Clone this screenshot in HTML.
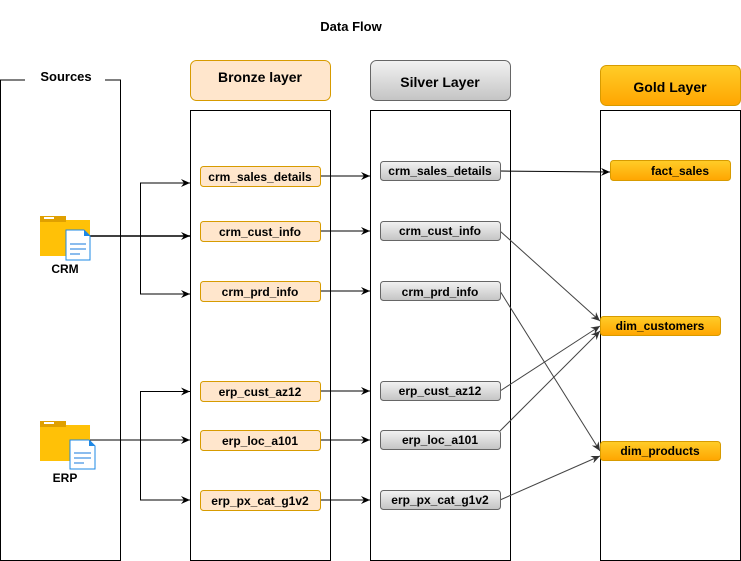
<!DOCTYPE html>
<html><head><meta charset="utf-8"><style>body{margin:0;background:#fff}svg{display:block}text{font-family:"Liberation Sans",sans-serif;font-weight:bold}</style></head><body>
<svg width="741" height="561" viewBox="0 0 741 561" xmlns="http://www.w3.org/2000/svg">
<defs>
<linearGradient id="sg" x1="0" y1="0" x2="0" y2="1"><stop offset="0" stop-color="#f2f2f2"/><stop offset="1" stop-color="#c4c4c4"/></linearGradient>
<linearGradient id="gg" x1="0" y1="0" x2="0" y2="1"><stop offset="0" stop-color="#ffcd28"/><stop offset="1" stop-color="#ffa500"/></linearGradient>
<marker id="a" markerWidth="10" markerHeight="8" refX="9" refY="4" orient="auto" markerUnits="userSpaceOnUse"><path d="M0,0 L9,4 L0,8 L3,4 z" fill="#000"/></marker>
<marker id="ag" markerWidth="10" markerHeight="8" refX="9" refY="4" orient="auto" markerUnits="userSpaceOnUse"><path d="M0,0 L9,4 L0,8 L3,4 z" fill="#333"/></marker>
</defs>
<text x="351" y="31" font-size="13" text-anchor="middle">Data Flow</text>
<path d="M25,80 H0.5 V560.5 H120.5 V80 H105" fill="none" stroke="#000"/>
<text x="66" y="81" font-size="13" text-anchor="middle">Sources</text>
<rect x="190.5" y="60.5" width="140" height="40" rx="6" fill="#ffe6cc" stroke="#d79b00"/>
<text x="260" y="82" font-size="14" text-anchor="middle">Bronze layer</text>
<rect x="370.5" y="60.5" width="140" height="40" rx="6" fill="url(#sg)" stroke="#666"/>
<text x="440" y="87" font-size="14" text-anchor="middle">Silver Layer</text>
<rect x="600.5" y="65.5" width="140" height="40" rx="6" fill="url(#gg)" stroke="#d79b00"/>
<text x="670" y="92" font-size="14" text-anchor="middle">Gold Layer</text>
<rect x="190.5" y="110.5" width="140" height="450" fill="none" stroke="#000"/>
<rect x="370.5" y="110.5" width="140" height="450" fill="none" stroke="#000"/>
<rect x="600.5" y="110.5" width="140" height="450" fill="none" stroke="#000"/>
<g stroke="#000" fill="none" stroke-width="1">
<path d="M90,236 H190" marker-end="url(#a)" stroke-width="1.5"/>
<path d="M190,183 H140.5 V294 H190" marker-end="url(#a)"/>
<path d="M140.5,183 H190" marker-end="url(#a)"/>
<path d="M90,440 H190" marker-end="url(#a)"/>
<path d="M190,391.5 H140.5 V500 H190" marker-end="url(#a)"/>
<path d="M140.5,391.5 H190" marker-end="url(#a)"/>
<path d="M320,176 H370" marker-end="url(#a)"/>
<path d="M320,231 H370" marker-end="url(#a)"/>
<path d="M320,291 H370" marker-end="url(#a)"/>
<path d="M320,391 H370" marker-end="url(#a)"/>
<path d="M320,440 H370" marker-end="url(#a)"/>
<path d="M320,500 H370" marker-end="url(#a)"/>
<path d="M500,171 L610,172" marker-end="url(#a)"/>
</g>
<g stroke="#444" fill="none">
<path d="M500,231 L600,321" marker-end="url(#ag)"/>
<path d="M500,291 L600,451" marker-end="url(#ag)"/>
<path d="M500,391 L600,326" marker-end="url(#ag)"/>
<path d="M500,431 L600,331" marker-end="url(#ag)"/>
<path d="M500,500 L600,456" marker-end="url(#ag)"/>
</g>
<g font-size="12" text-anchor="middle">
<g fill="#ffe6cc" stroke="#d79b00">
<rect x="200.5" y="166.5" width="120" height="20" rx="3"/>
<rect x="200.5" y="221.5" width="120" height="20" rx="3"/>
<rect x="200.5" y="281.5" width="120" height="20" rx="3"/>
<rect x="200.5" y="381.5" width="120" height="20" rx="3"/>
<rect x="200.5" y="430.5" width="120" height="20" rx="3"/>
<rect x="200.5" y="490.5" width="120" height="20" rx="3"/>
</g>
<text x="260" y="181">crm_sales_details</text>
<text x="260" y="236">crm_cust_info</text>
<text x="260" y="296">crm_prd_info</text>
<text x="260" y="396">erp_cust_az12</text>
<text x="260" y="445">erp_loc_a101</text>
<text x="260" y="505">erp_px_cat_g1v2</text>
<g fill="url(#sg)" stroke="#666">
<rect x="380.5" y="161.5" width="120" height="19" rx="3"/>
<rect x="380.5" y="221.5" width="120" height="19" rx="3"/>
<rect x="380.5" y="281.5" width="120" height="19" rx="3"/>
<rect x="380.5" y="381.5" width="120" height="19" rx="3"/>
<rect x="380.5" y="430.5" width="120" height="19" rx="3"/>
<rect x="380.5" y="490.5" width="120" height="19" rx="3"/>
</g>
<text x="440" y="175">crm_sales_details</text>
<text x="440" y="235">crm_cust_info</text>
<text x="440" y="296">crm_prd_info</text>
<text x="440" y="395">erp_cust_az12</text>
<text x="440" y="444">erp_loc_a101</text>
<text x="440" y="504">erp_px_cat_g1v2</text>
<g fill="url(#gg)" stroke="#d79b00">
<rect x="610.5" y="160.5" width="120" height="20" rx="3"/>
<rect x="600.5" y="316.5" width="120" height="19" rx="3"/>
<rect x="600.5" y="441.5" width="120" height="19" rx="3"/>
</g>
<text x="680" y="175">fact_sales</text>
<text x="660" y="330">dim_customers</text>
<text x="660" y="455">dim_products</text>
</g>
<g>
<path d="M40,216 H62 L66,220 H90 V256 H40 Z" fill="#ffc107"/>
<rect x="40" y="216" width="26" height="6" fill="#e0a000"/>
<rect x="44" y="217" width="10" height="2" fill="#fff"/>
<path d="M66,230 H84 L90,236 V260 H66 Z" fill="#fff" stroke="#1e88e5"/>
<path d="M84,230 V236 H90 Z" fill="#1e88e5"/>
<g stroke="#64a6e8" stroke-width="1.5"><path d="M70,244 H86 M70,249 H86 M70,254 H80"/></g>
<text x="65" y="273" font-size="12" font-weight="normal" text-anchor="middle">CRM</text>
<path d="M40,421 H62 L66,425 H90 V461 H40 Z" fill="#ffc107"/>
<rect x="40" y="421" width="26" height="6" fill="#e0a000"/>
<rect x="44" y="422" width="10" height="2" fill="#fff"/>
<path d="M70,440 H89 L95,446 V469 H70 Z" fill="#fff" stroke="#1e88e5"/>
<path d="M89,440 V446 H95 Z" fill="#1e88e5"/>
<g stroke="#64a6e8" stroke-width="1.5"><path d="M74,453 H91 M74,458 H91 M74,463 H84"/></g>
<text x="65" y="482" font-size="12" font-weight="normal" text-anchor="middle">ERP</text>
</g>
</svg>
</body></html>
